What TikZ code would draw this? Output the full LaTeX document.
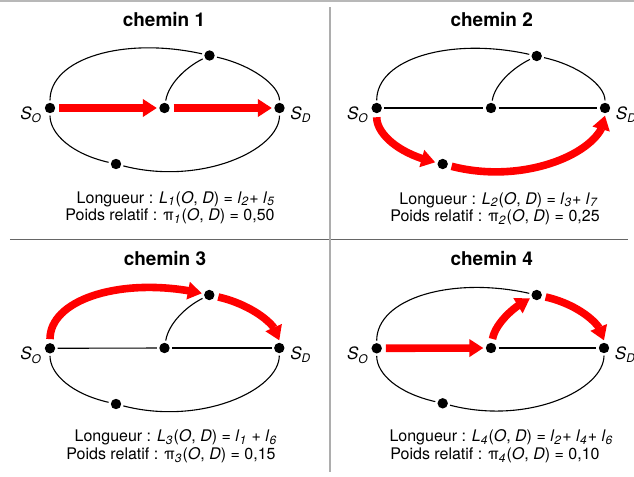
\documentclass[tikz,border=0pt]{standalone}
\usepackage{fontspec}
\setmainfont{TeX Gyre Heros}
\usetikzlibrary{arrows.meta,bending,positioning}

\newcommand{\indice}[2]{\textit{#1}\textsubscript{\textit{#2}}}

\tikzset{
  noeud/.style={circle, fill=black, inner sep=0pt, minimum size=5.2pt, outer sep=1.2pt},
  lien/.style={line width=0.55pt},
  chemin/.style={draw=red, line width=3.8pt, shorten <=0.8pt, -{Triangle[length=7pt,width=8.5pt]}},
  titre/.style={font=\bfseries\fontsize{9.5}{11}\selectfont, inner sep=0pt, anchor=base},
  legende/.style={font=\fontsize{8}{9}\selectfont, inner sep=0pt, anchor=base},
  etiq/.style={font=\fontsize{8.5}{9}\selectfont, inner sep=0pt}
}

\begin{document}
\begin{tikzpicture}[x=0.5pt,y=0.5pt]
\useasboundingbox (0,0) rectangle (634,-477);
% cadres
\draw[black!28, line width=0.7pt] (0,-1) -- (634,-1);
\draw[black!60, line width=0.6pt] (10,-239.3) -- (628,-239.3);
\draw[black!32, line width=1.2pt] (330,-7) -- (330,-472);

% chemin 1
\node[titre] (ti1) at (164,-26.7) {chemin 1};
\node[noeud] (so1) at (50,-108) {};
\node[noeud] (mi1) at (164.5,-108) {};
\node[noeud] (ha1) at (209.5,-55.5) {};
\node[noeud] (sd1) at (279.5,-108) {};
\node[noeud] (ba1) at (116,-164) {};
\node[etiq, left=0pt of so1, yshift=-3.5pt] (lso1) {\indice{S}{O}};
\node[etiq, right=1.5pt of sd1, yshift=-3.5pt] (lsd1) {\indice{S}{D}};
\draw[lien] (so1) .. controls +(0,50) and +(-85,19) .. (ha1);
\draw[lien] (ha1) .. controls +(41.5,-9.3) and +(0,22.9) .. (sd1);
\draw[lien] (mi1) .. controls +(4,24) and +(-24,-12) .. (ha1);
\draw[lien] (so1) .. controls +(0,-26) and +(-44,10) .. (ba1);
\draw[lien] (ba1) .. controls +(85,-22) and +(0,-42) .. (sd1);
\draw[chemin] (so1) -- (mi1);
\draw[chemin] (mi1) -- (sd1);
\node[legende] (lo1) at (176,-203) {Longueur : \indice{L}{1}(\textit{O}, \textit{D}) = \indice{l}{2}+ \indice{l}{5}};
\node[legende] (po1) at (170,-220.5) {Poids relatif : π\textsubscript{\textit{1}}(\textit{O}, \textit{D}) = 0,50};

% chemin 2
\node[titre] (ti2) at (491.7,-26.7) {chemin 2};
\node[noeud] (so2) at (376.7,-108) {};
\node[noeud] (mi2) at (491,-108) {};
\node[noeud] (ha2) at (536.7,-56) {};
\node[noeud] (sd2) at (605,-108) {};
\node[noeud] (ba2) at (442.7,-164) {};
\node[etiq, left=0pt of so2, yshift=-3.5pt] (lso2) {\indice{S}{O}};
\node[etiq, right=1.5pt of sd2, yshift=-3.5pt] (lsd2) {\indice{S}{D}};
\draw[lien] (so2) .. controls +(0,50) and +(-85,19) .. (ha2);
\draw[lien] (ha2) .. controls +(41.5,-9.3) and +(0,22.9) .. (sd2);
\draw[lien] (mi2) .. controls +(4,24) and +(-24,-12) .. (ha2);
\draw[lien] (so2) -- (mi2);
\draw[lien] (mi2) -- (sd2);
\draw[chemin] (so2) .. controls +(0,-26) and +(-44,10) .. (ba2);
\draw[chemin] (ba2) .. controls +(85,-22) and +(0,-42) .. (sd2);
\node[legende] (lo2) at (499,-204) {Longueur : \indice{L}{2}(\textit{O}, \textit{D}) = \indice{l}{3}+ \indice{l}{7}};
\node[legende] (po2) at (495,-221.5) {Poids relatif : π\textsubscript{\textit{2}}(\textit{O}, \textit{D}) = 0,25};

% chemin 3
\node[titre] (ti3) at (165,-265) {chemin 3};
\node[noeud] (so3) at (50,-348.3) {};
\node[noeud] (mi3) at (164.5,-348) {};
\node[noeud] (ha3) at (209.3,-295) {};
\node[noeud] (sd3) at (279.3,-348) {};
\node[noeud] (ba3) at (116,-404) {};
\node[etiq, left=0pt of so3, yshift=-3.5pt] (lso3) {\indice{S}{O}};
\node[etiq, right=1.5pt of sd3, yshift=-3.5pt] (lsd3) {\indice{S}{D}};
\draw[lien] (mi3) .. controls +(4,24) and +(-24,-12) .. (ha3);
\draw[lien] (so3) -- (mi3);
\draw[lien] (mi3) -- (sd3);
\draw[lien] (so3) .. controls +(0,-26) and +(-44,10) .. (ba3);
\draw[lien] (ba3) .. controls +(85,-22) and +(0,-42) .. (sd3);
\draw[chemin] (so3) .. controls +(0,50) and +(-85,19) .. (ha3);
\draw[chemin] (ha3) .. controls +(41.5,-9.3) and +(0,22.9) .. (sd3);
\node[legende] (lo3) at (176,-441.7) {Longueur : \indice{L}{3}(\textit{O}, \textit{D}) = \indice{l}{1} + \indice{l}{6}};
\node[legende] (po3) at (171,-459.5) {Poids relatif : π\textsubscript{\textit{3}}(\textit{O}, \textit{D}) = 0,15};

% chemin 4
\node[titre] (ti4) at (491.7,-265) {chemin 4};
\node[noeud] (so4) at (376.7,-348.3) {};
\node[noeud] (mi4) at (491,-348) {};
\node[noeud] (ha4) at (536.7,-295) {};
\node[noeud] (sd4) at (604,-348) {};
\node[noeud] (ba4) at (442.7,-403.3) {};
\node[etiq, left=0pt of so4, yshift=-3.5pt] (lso4) {\indice{S}{O}};
\node[etiq, right=1.5pt of sd4, yshift=-3.5pt] (lsd4) {\indice{S}{D}};
\draw[lien] (so4) .. controls +(0,50) and +(-85,19) .. (ha4);
\draw[lien] (mi4) -- (sd4);
\draw[lien] (so4) .. controls +(0,-26) and +(-44,10) .. (ba4);
\draw[lien] (ba4) .. controls +(85,-22) and +(0,-42) .. (sd4);
\draw[chemin] (so4) -- (mi4);
\draw[chemin] (mi4) .. controls +(4,24) and +(-24,-12) .. (ha4);
\draw[chemin] (ha4) .. controls +(41.5,-9.3) and +(0,22.9) .. (sd4);
\node[legende] (lo4) at (501.5,-441.7) {Longueur : \indice{L}{4}(\textit{O}, \textit{D}) = \indice{l}{2}+ \indice{l}{4}+ \indice{l}{6}};
\node[legende] (po4) at (495,-459.5) {Poids relatif : π\textsubscript{\textit{4}}(\textit{O}, \textit{D}) = 0,10};
\end{tikzpicture}
\end{document}
